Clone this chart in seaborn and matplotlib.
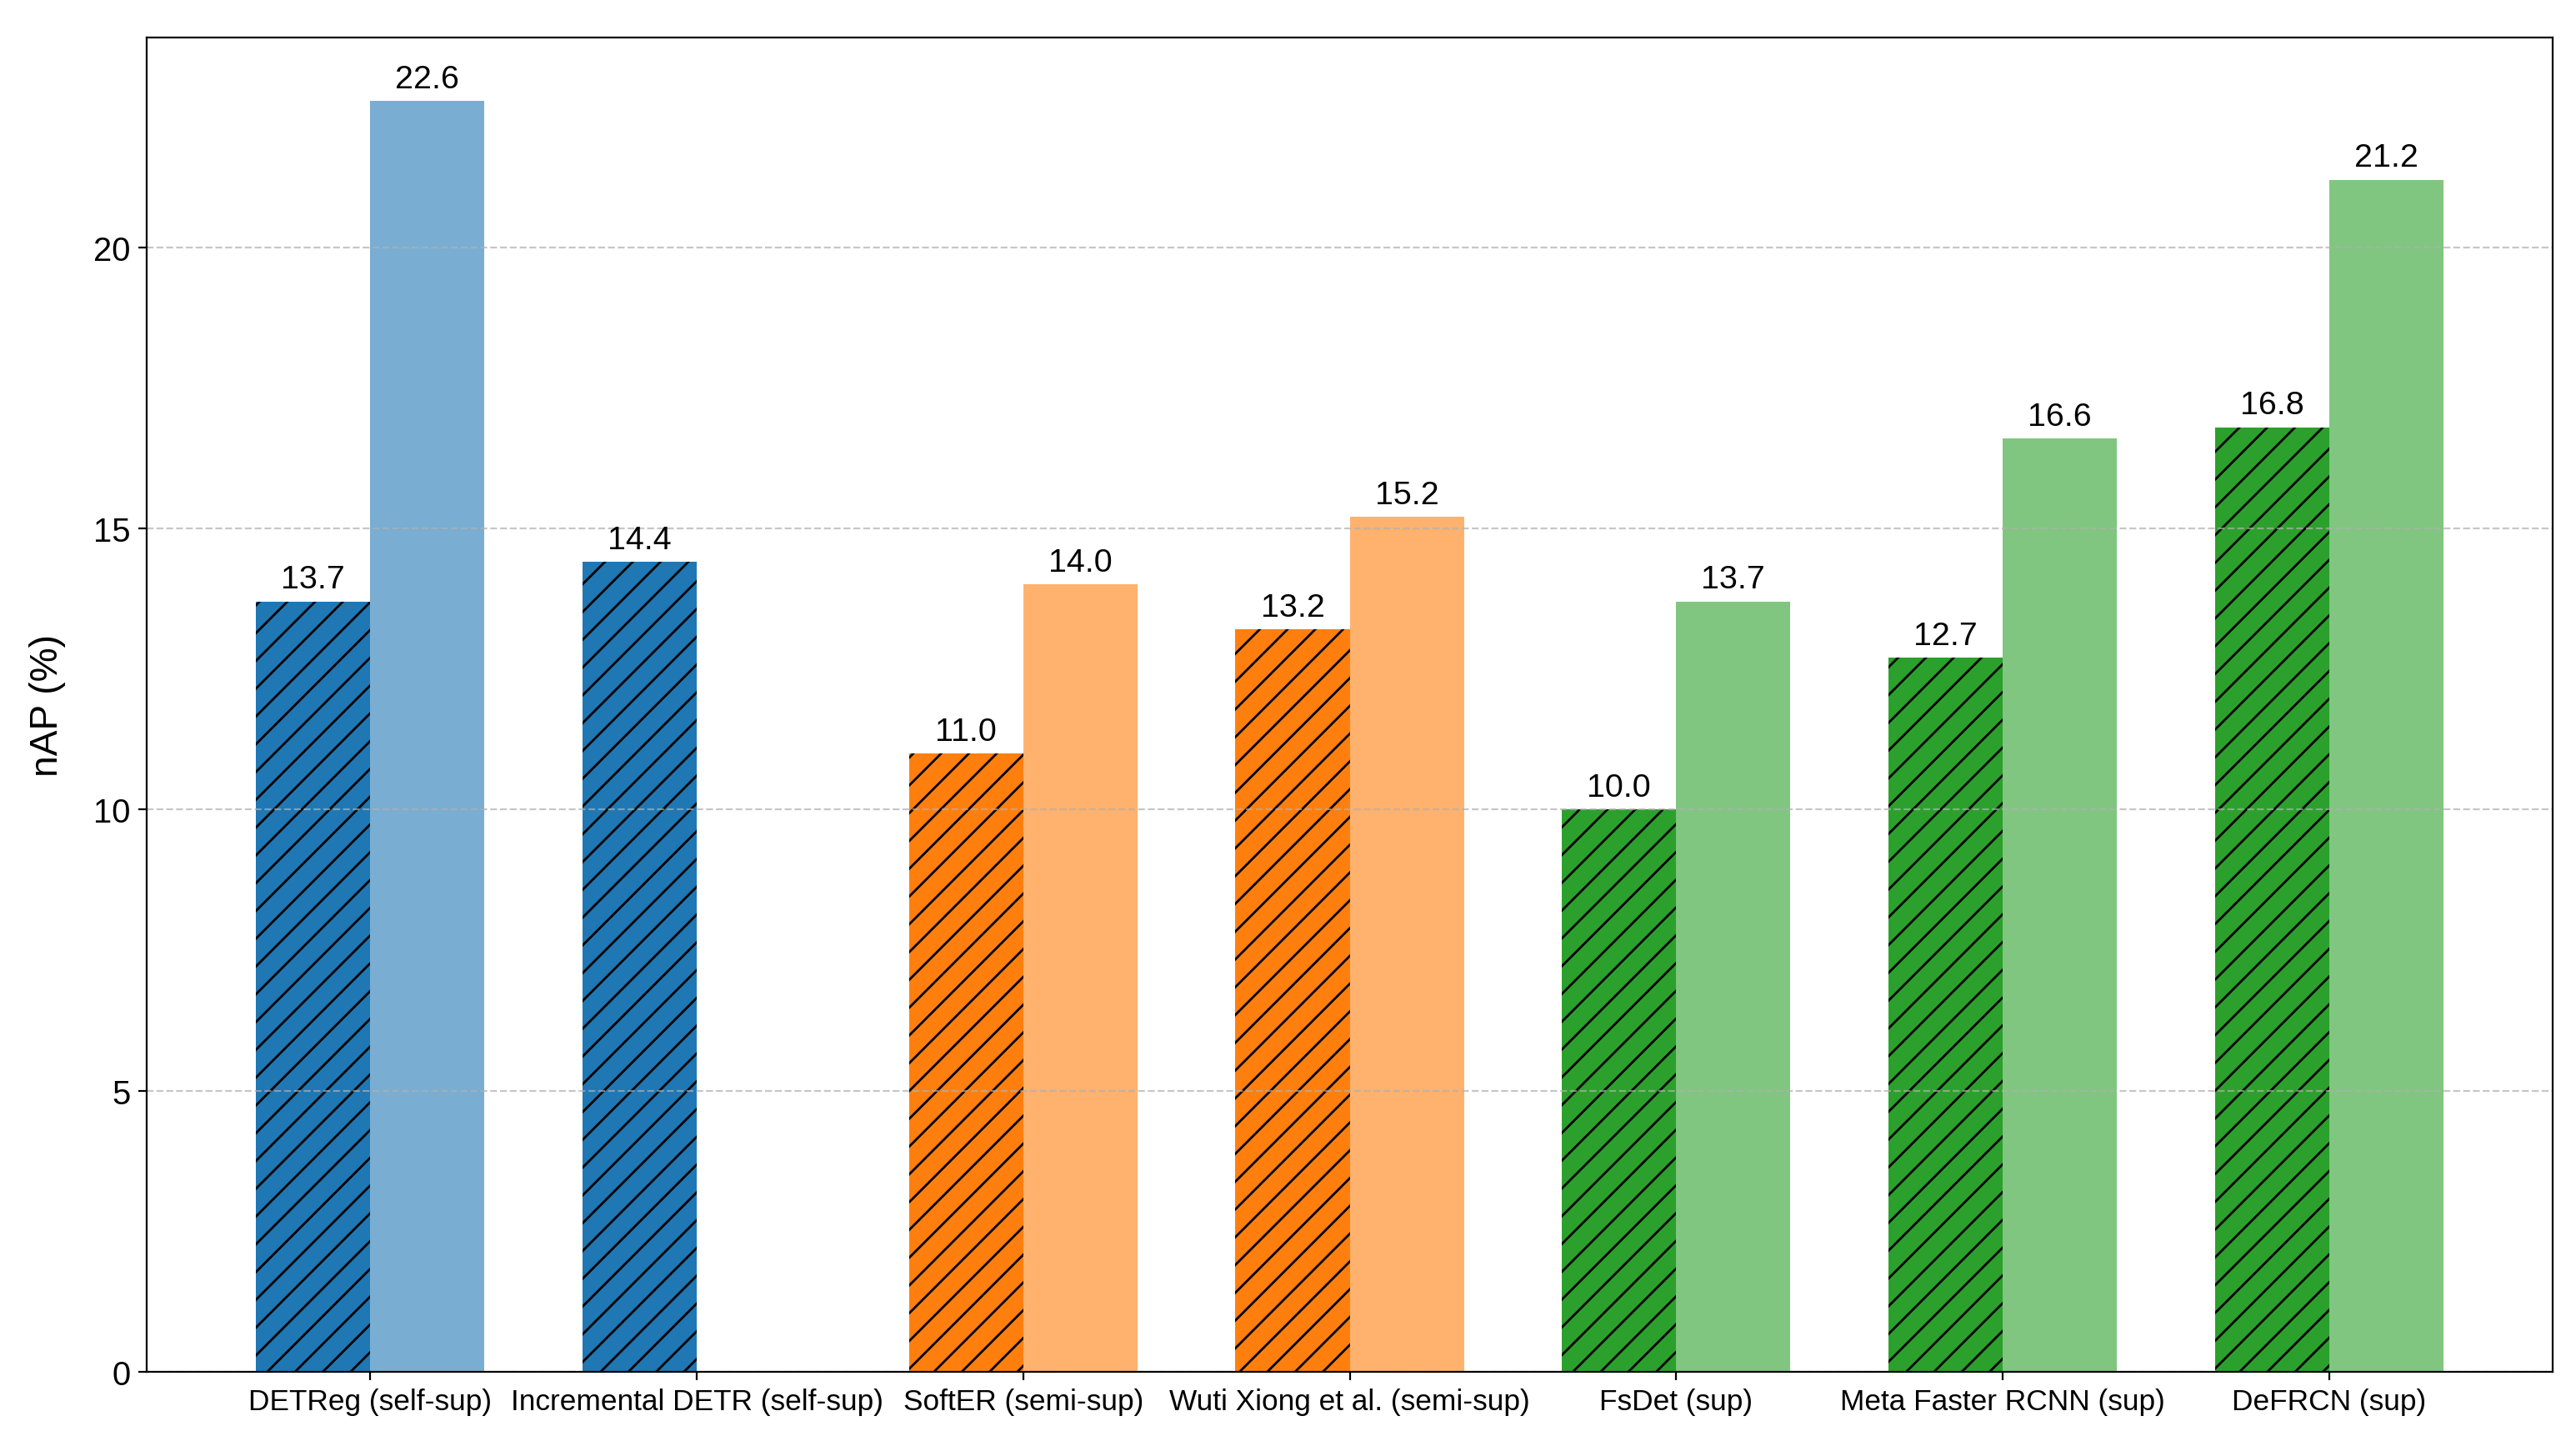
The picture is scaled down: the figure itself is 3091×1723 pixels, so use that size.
import matplotlib
matplotlib.use("Agg")
import matplotlib.pyplot as plt
import matplotlib.colors as mcolors
import seaborn as sns
import pandas as pd
import numpy as np

# ---- data ----
methods = ["DETReg (self-sup)", "Incremental DETR (self-sup)", "SoftER (semi-sup)",
           "Wuti Xiong et al. (semi-sup)", "FsDet (sup)", "Meta Faster RCNN (sup)", "DeFRCN (sup)"]
hatched_vals = [13.7, 14.4, 11.0, 13.2, 10.0, 12.7, 16.8]
plain_vals = [22.6, np.nan, 14.0, 15.2, 13.7, 16.6, 21.2]
family_colors = ["#1f77b4", "#1f77b4", "#ff7f0e", "#ff7f0e", "#2ca02c", "#2ca02c", "#2ca02c"]
settings = ["hatched", "plain"]

rows = []
for m, a, b in zip(methods, hatched_vals, plain_vals):
    rows.append({"method": m, "setting": "hatched", "nAP": a})
    if not np.isnan(b):
        rows.append({"method": m, "setting": "plain", "nAP": b})
df = pd.DataFrame(rows)

plt.rcParams["font.family"] = ["Liberation Sans", "DejaVu Sans"]

fig = plt.figure(figsize=(3091 / 200, 1724 / 200), dpi=200)
ax = fig.add_axes([176 / 3091, 1 - 1647 / 1724, (3063 - 176) / 3091, (1647 - 46) / 1724])

sns.barplot(data=df, x="method", y="nAP", hue="setting", hue_order=settings,
            order=methods, width=0.7, errorbar=None, legend=False, ax=ax)

for h, cont in enumerate(ax.containers):
    for bar in cont:
        cx = bar.get_x() + bar.get_width() / 2
        idx = int(round(cx))
        base = family_colors[idx]
        if h == 0:
            bar.set_facecolor(base)
            bar.set_edgecolor("black")
            bar.set_linewidth(0)
            bar.set_hatch("//")
        else:
            r, g, b_, _ = mcolors.to_rgba(base)
            a = 0.6
            bar.set_facecolor((a * r + 1 - a, a * g + 1 - a, a * b_ + 1 - a))
            bar.set_edgecolor("none")
            bar.set_linewidth(0)
    ax.bar_label(cont, fmt="%.1f", padding=3, fontsize=14.2)

ax.set_xlim(-0.685, 6.685)
ax.set_ylim(0, 22.6 * 1.05)
ax.set_yticks([0, 5, 10, 15, 20])
ax.yaxis.grid(True, linestyle="--", alpha=0.7)
ax.xaxis.grid(False)
ax.set_xlabel("")
ax.set_ylabel("nAP (%)", fontsize=16.6, labelpad=12)
ax.tick_params(axis="x", labelsize=12.7)
ax.tick_params(axis="y", labelsize=14.4)
for s in ax.spines.values():
    s.set_visible(True)
    s.set_color("black")

fig.savefig("out.png", dpi=200)
